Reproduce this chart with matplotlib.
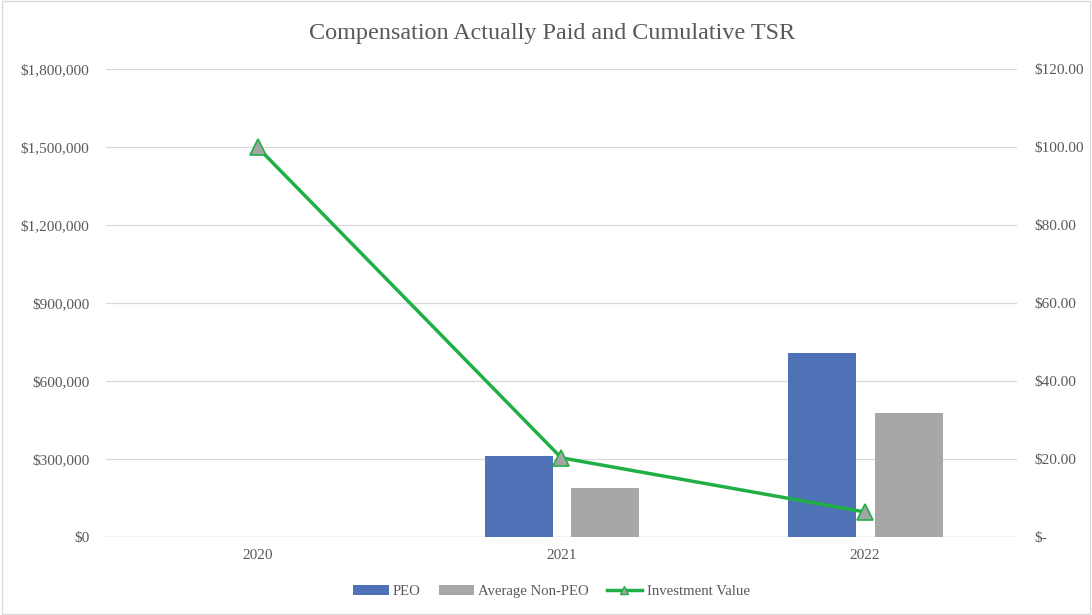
import numpy as np
import matplotlib.pyplot as plt
from matplotlib.patches import Rectangle
from matplotlib.lines import Line2D

years = ['2020', '2021', '2022']
peo = [0, 312000, 709000]
non_peo = [0, 189000, 478000]
investment = [100.0, 20.3, 6.4]

plt.rcParams['font.family'] = ['Liberation Serif', 'DejaVu Serif']
text_col = '#595959'
green = '#1faf45'

fig = plt.figure(figsize=(10.92, 6.15), dpi=100)
ax = fig.add_axes([0.097, 0.127, 0.834, 0.76])
ax2 = ax.twinx()

x = np.arange(len(years))
w = 0.224
ax.bar(x - 0.14, peo, w, color='#4e72b5', label='PEO', zorder=2)
ax.bar(x + 0.145, non_peo, w, color='#a9a6a6', label='Average Non-PEO', zorder=2)

ax2.plot(x, investment, color=green, linewidth=2.5, marker='^', markersize=11,
         markerfacecolor='#a5a5a5', markeredgecolor=green, markeredgewidth=1.2,
         zorder=3)

ax.set_xlim(-0.5, 2.5)
ax.set_ylim(0, 1800000)
ax.set_yticks(np.arange(0, 1800001, 300000))
ax.set_yticklabels(['$0'] + ['${:,.0f}'.format(v) for v in np.arange(300000, 1800001, 300000)])
ax2.set_ylim(0, 120)
ax2.set_yticks(np.arange(0, 121, 20))
ax2.set_yticklabels(['$-'] + ['${:.2f}'.format(v) for v in np.arange(20, 121, 20)])
ax.set_xticks(x)
ax.set_xticklabels(years)

ax.grid(axis='y', color='#d9d9d9', linewidth=0.9, zorder=0)
ax.set_axisbelow(True)
for a in (ax, ax2):
    for s in ['top', 'left', 'right', 'bottom']:
        a.spines[s].set_visible(False)
    a.tick_params(length=0, labelsize=11, colors=text_col)
ax.axhline(0, color='#d0d0d0', linewidth=1, zorder=1)
ax.tick_params(axis='x', pad=9)
ax.tick_params(axis='y', pad=12)
ax2.tick_params(axis='y', pad=13)

fig.suptitle('Compensation Actually Paid and Cumulative TSR', x=0.506, y=0.962,
             fontsize=17.4, color=text_col)

h1, l1 = ax.get_legend_handles_labels()
inv_handle = Line2D([], [], color=green, linewidth=2.5, marker='^', markersize=6,
                    markerfacecolor='#a5a5a5', markeredgecolor=green)
fig.legend(h1 + [inv_handle], l1 + ['Investment Value'], loc='center',
           bbox_to_anchor=(0.505, 0.038), ncol=3, frameon=False, fontsize=10.6,
           labelcolor=text_col, handlelength=2.4, handleheight=0.6,
           columnspacing=1.2, handletextpad=0.3)

fig.patches.append(Rectangle((0.002, 0.002), 0.996, 0.996, transform=fig.transFigure,
                             fill=False, edgecolor='#d9d9d9', linewidth=1))

fig.savefig('out.png', dpi=100)
